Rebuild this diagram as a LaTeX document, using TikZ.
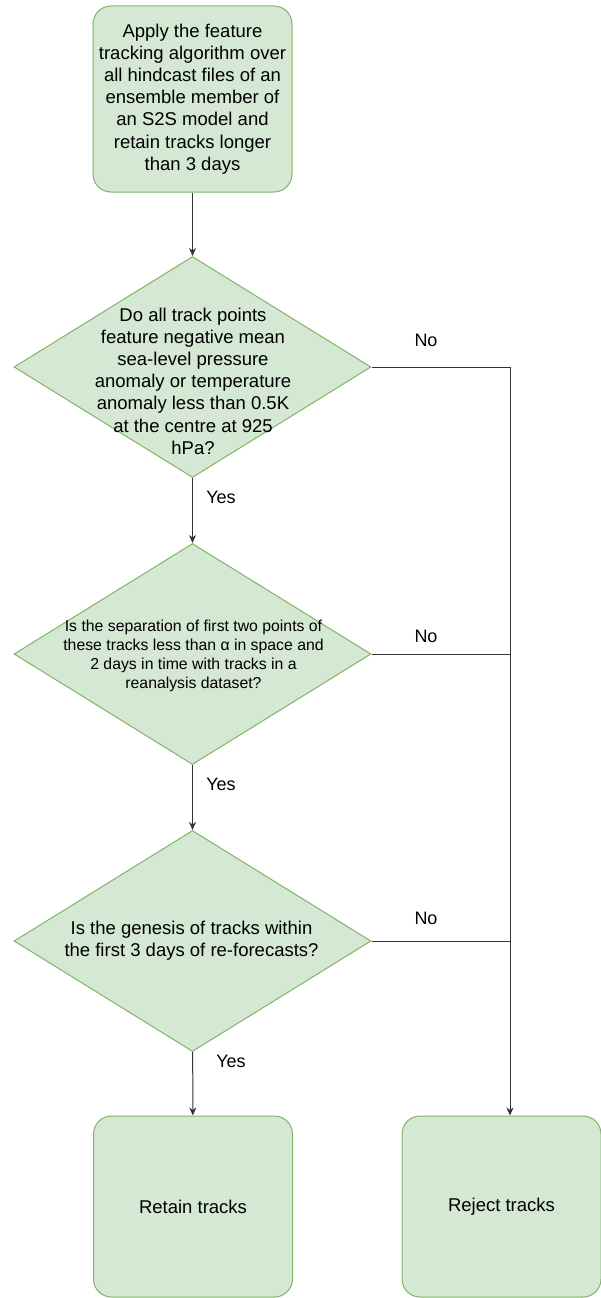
\documentclass[tikz,border=0pt]{standalone}
\usepackage{fontspec}
\setmainfont{Liberation Sans}
\usetikzlibrary{shapes.geometric,arrows.meta}
\definecolor{boxfill}{HTML}{D5E8D4}
\definecolor{boxline}{HTML}{82B366}
\definecolor{edgecol}{HTML}{333333}
\tikzset{
  roundbox/.style={rectangle, rounded corners=18pt, draw=boxline, fill=boxfill, line width=1pt,
    minimum width=199pt, inner sep=0pt, align=center},
  decision/.style={diamond, draw=boxline, fill=boxfill, line width=1pt, inner sep=0pt,
    minimum width=357pt, minimum height=221pt},
  bigtext/.style={align=center, inner sep=0pt, font=\fontsize{18.5}{22.2}\selectfont},
  smalltext/.style={align=center, inner sep=0pt, font=\fontsize{15.8}{18.8}\selectfont},
  lab/.style={inner sep=0pt, font=\fontsize{18}{21}\selectfont},
  arr/.style={draw=edgecol, line width=1pt, -{Stealth[length=8pt,width=7pt,inset=2.5pt]}},
  plain/.style={draw=edgecol, line width=1pt}
}
\begin{document}
\begin{tikzpicture}[x=1pt,y=-1pt]
\useasboundingbox (0,0) rectangle (601,1298);

\node[roundbox, minimum height=186pt, font=\fontsize{18.5}{22.2}\selectfont] (start) at (192.5,99)
  {Apply the feature\\tracking algorithm over\\all hindcast files of an\\ensemble member of\\an S2S model and\\retain tracks longer\\than 3 days};

\node[decision] (d1) at (192.5,367) {};
\node[bigtext] (t1) at (193,381) {Do all track points\\feature negative mean\\sea-level pressure\\anomaly or temperature\\anomaly less than 0.5K\\at the centre at 925\\hPa?};

\node[decision] (d2) at (192.5,654) {};
\node[smalltext] (t2) at (193.5,656) {Is the separation of first two points of\\these tracks less than α in space and\\2 days in time with tracks in a\\reanalysis dataset?};

\node[decision] (d3) at (192.5,941) {};
\node[bigtext] (t3) at (191.5,941) {Is the genesis of tracks within\\the first 3 days of re-forecasts?};

\node[roundbox, minimum height=181pt, font=\fontsize{18.5}{22.2}\selectfont] (retain) at (193,1206.5) {Retain tracks};
\node[roundbox, minimum height=181pt, font=\fontsize{18.5}{22.2}\selectfont] (reject) at (501.5,1206.5) {Reject tracks};

\coordinate (rail) at (510,367);

\draw[arr] (start) -- (d1);
\draw[arr] (d1) -- (d2);
\draw[arr] (d2) -- (d3);
\draw[arr] (d3) -- (retain);
\draw[arr] (d1.east) -- (rail) -- (rail |- reject.north);
\draw[plain] (d2.east) -- (d2.east -| rail);
\draw[plain] (d3.east) -- (d3.east -| rail);

\node[lab] (no1) at (426,340) {No};
\node[lab] (no2) at (426,636) {No};
\node[lab] (no3) at (426,918) {No};
\node[lab] (yes1) at (221,497) {Yes};
\node[lab] (yes2) at (221,784) {Yes};
\node[lab] (yes3) at (231,1061) {Yes};
\end{tikzpicture}
\end{document}
